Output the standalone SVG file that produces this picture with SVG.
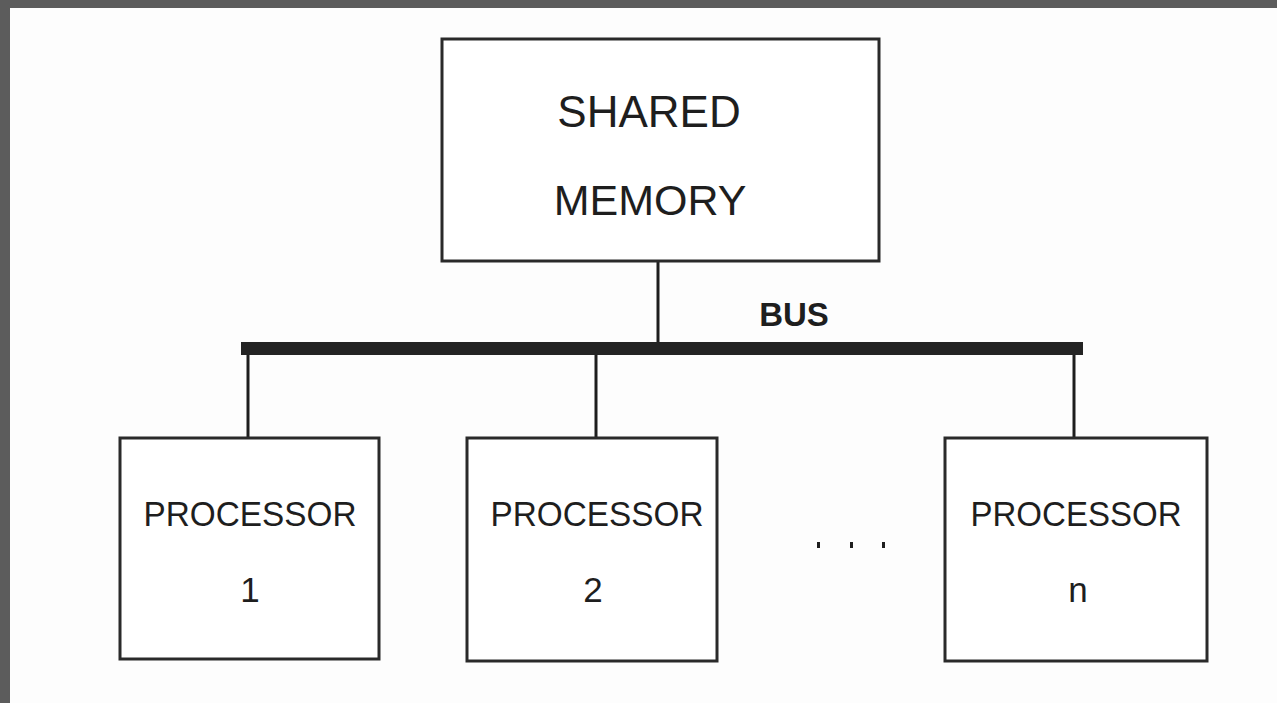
<svg xmlns="http://www.w3.org/2000/svg" width="1277" height="703" viewBox="0 0 1277 703">
<style>
.box{fill:#fff;stroke:#2a2a2a;stroke-width:3}
.t{font-family:"Liberation Sans",Arial,sans-serif;fill:#1e1e1e;text-anchor:middle}
.line{stroke:#1e1e1e;stroke-width:3;fill:none}
</style>
<rect x="0" y="0" width="1277" height="703" fill="#fdfdfd"/>
<rect x="0" y="0" width="1277" height="8" fill="#5c5c5c"/>
<rect x="0" y="0" width="10" height="703" fill="#5c5c5c"/>
<g id="connectors">
<line class="line" x1="658" y1="261" x2="658" y2="342"/>
<rect x="241" y="342" width="842" height="13" fill="#232323"/>
<line class="line" x1="248" y1="355" x2="248" y2="438"/>
<line class="line" x1="596" y1="355" x2="596" y2="438"/>
<line class="line" x1="1074" y1="355" x2="1074" y2="438"/>
<text class="t" x="794" y="326" font-size="33" font-weight="bold">BUS</text>
</g>
<g id="memory">
<rect class="box" x="442" y="39" width="437" height="222"/>
<text class="t" x="649" y="127" font-size="44">SHARED</text>
<text class="t" x="650" y="215" font-size="43">MEMORY</text>
</g>
<g id="processor1">
<rect class="box" x="120" y="438" width="259" height="221"/>
<text class="t" x="250" y="526" font-size="35" textLength="213" lengthAdjust="spacingAndGlyphs">PROCESSOR</text>
<text class="t" x="250" y="602" font-size="35">1</text>
</g>
<g id="processor2">
<rect class="box" x="467" y="438" width="250" height="223"/>
<text class="t" x="597" y="526" font-size="35" textLength="213" lengthAdjust="spacingAndGlyphs">PROCESSOR</text>
<text class="t" x="593" y="602" font-size="35">2</text>
</g>
<g id="processorn">
<rect class="box" x="945" y="438" width="262" height="223"/>
<text class="t" x="1076" y="526" font-size="35" textLength="211" lengthAdjust="spacingAndGlyphs">PROCESSOR</text>
<text class="t" x="1078" y="602" font-size="35">n</text>
</g>
<g id="ellipsis" fill="#1e1e1e">
<rect x="817" y="542" width="3" height="6"/>
<rect x="850" y="542" width="3" height="6"/>
<rect x="882" y="542" width="3" height="6"/>
</g>
</svg>
